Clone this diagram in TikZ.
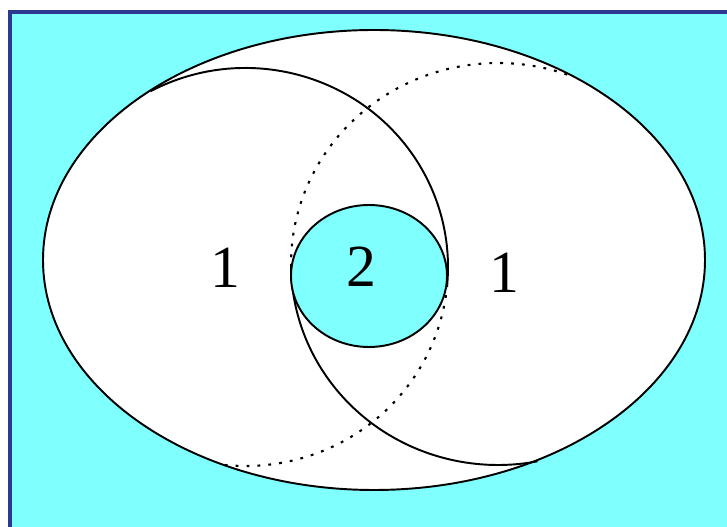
\documentclass[tikz,border=0pt]{standalone}
\usepackage{fontspec}
\setmainfont{Liberation Serif}
\definecolor{slidecyan}{RGB}{128,255,255}
\definecolor{frameblue}{RGB}{43,57,144}

\begin{document}
\begin{tikzpicture}[x=0.02cm, y=0.02cm]
\tikzstyle{rim} = [draw=black, line width=1.1pt]
\tikzstyle{hidden} = [draw=black, line width=1.2pt, dash pattern=on 1.6pt off 4.6pt]
\tikzstyle{count} = [font=\fontsize{34}{40}\selectfont, inner sep=0pt]

\useasboundingbox (0,0) rectangle (727,527);
\fill[white] (0,0) rectangle (727,527);
\fill[slidecyan] (10,0) rectangle (727,515);
\draw[frameblue, line width=0.08cm] (10,0) -- (10,515) -- (727,515);

% outer set
\draw[rim, fill=white] (374,267) ellipse [x radius=331, y radius=230];

\coordinate (lc) at (245.5,260);
\coordinate (rc) at (498,263);

% left and right sets
\draw[rim] (lc) ++(118:202.5 and 199) arc [start angle=118, end angle=-5, x radius=202.5, y radius=199];
\draw[hidden] (lc) ++(-5:202.5 and 199) arc [start angle=-5, end angle=-97, x radius=202.5, y radius=199];
\draw[hidden] (rc) ++(70.5:207 and 201) arc [start angle=70.5, end angle=180, x radius=207, y radius=201];
\draw[rim] (rc) ++(180:207 and 201) arc [start angle=180, end angle=281, x radius=207, y radius=201];

% overlap
\draw[rim, fill=slidecyan] (369,251) ellipse [x radius=78, y radius=71];

\node[count] (leftone) at (225,259.5) {1};
\node[count] (two) at (361.5,260) {2};
\node[count] (rightone) at (504.5,254.5) {1};
\end{tikzpicture}
\end{document}
